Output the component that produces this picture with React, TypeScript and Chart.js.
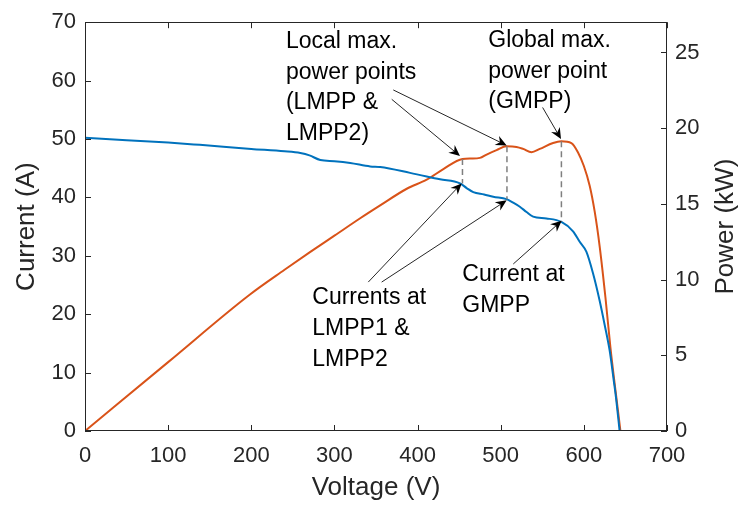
import React, { useEffect, useRef } from 'react';
import { Chart, registerables } from 'chart.js';

Chart.register(...registerables);

// ---- Axis ticks ----
const voltageTicks = [0, 100, 200, 300, 400, 500, 600, 700];
const currentTicks = [0, 10, 20, 30, 40, 50, 60, 70];
const powerTicks = [0, 5, 10, 15, 20, 25];

// ---- I-V curve (blue) ----
const currentVoltage = [0, 50, 100, 138, 200, 240, 259, 270, 283, 300, 319, 343, 355, 391, 427, 451, 459, 467, 480, 491, 507, 515, 523, 531, 539, 555, 573, 587, 595, 603, 611, 619, 625, 631, 636, 639, 643];
const currentAmps = [50.2, 49.8, 49.4, 49.0, 48.3, 47.9, 47.6, 47.2, 46.4, 46.2, 45.9, 45.3, 45.2, 44.2, 43.1, 42.4, 41.6, 40.9, 40.5, 40.1, 39.7, 39.1, 38.4, 37.5, 36.7, 36.4, 35.8, 34.2, 32.4, 30.7, 27.0, 22.3, 18.2, 13.8, 8.6, 5.3, 0];

// ---- P-V curve (orange) ----
const powerVoltage = [0, 100, 198, 240, 271, 300, 331, 355, 387, 411, 431, 454, 465, 475, 483, 495, 507, 519, 527, 537, 547, 563, 573, 585, 593, 600, 607, 613, 619, 626, 632, 638, 644];
const powerKW = [0, 4.55, 9.0, 10.65, 11.83, 12.9, 14.05, 14.9, 16.0, 16.6, 17.3, 17.97, 18.0, 18.04, 18.26, 18.55, 18.8, 18.76, 18.63, 18.41, 18.63, 19.02, 19.13, 19.02, 18.4, 17.5, 16.2, 14.5, 12.2, 8.8, 5.5, 2.7, 0];

// ---- Maximum power points (dashed guides) ----
const mppVoltage = [454, 507.5, 573];
const mppPowerKW = [17.97, 18.8, 19.13];
const mppCurrentA = [42.4, 39.7, 35.8];

// ---- Arrows (voltage, current-axis units) ----
const arrowTailV = [368.9, 370.8, 550.4, 340.7, 356.8, 515.1];
const arrowTailA = [56.8, 58.4, 55.4, 25.5, 25.5, 28.6];
const arrowTipV = [451, 507.2, 572.5, 453, 507.2, 573.3];
const arrowTipA = [47.1, 48.9, 50.0, 42.4, 39.5, 36.0];

// ---- Annotation texts (anchor = left / first baseline, in voltage & current units) ----
const noteLines = [
  ['Local max.', 'power points', '(LMPP &', 'LMPP2)'],
  ['Global max.', 'power point', '(GMPP)'],
  ['Currents at', 'LMPP1 &', 'LMPP2'],
  ['Current at', 'GMPP'],
];
const noteV = [241.7, 485.0, 273.4, 453.8];
const noteA = [65.6, 65.75, 21.7, 25.65];

const FONT = "'Liberation Sans', Arial, Helvetica, sans-serif";
const TEXT = '#262626';

function drawArrow(ctx: CanvasRenderingContext2D, x0: number, y0: number, x1: number, y1: number) {
  const ang = Math.atan2(y1 - y0, x1 - x0);
  const len = 11;
  const hw = 5;
  const notch = 7.5;
  const cos = Math.cos(ang);
  const sin = Math.sin(ang);
  ctx.save();
  ctx.strokeStyle = '#262626';
  ctx.fillStyle = '#000';
  ctx.lineWidth = 1;
  ctx.beginPath();
  ctx.moveTo(x0, y0);
  ctx.lineTo(x1 - cos * notch, y1 - sin * notch);
  ctx.stroke();
  ctx.beginPath();
  ctx.moveTo(x1, y1);
  ctx.lineTo(x1 - cos * len - sin * hw, y1 - sin * len + cos * hw);
  ctx.lineTo(x1 - cos * notch, y1 - sin * notch);
  ctx.lineTo(x1 - cos * len + sin * hw, y1 - sin * len - cos * hw);
  ctx.closePath();
  ctx.fill();
  ctx.restore();
}

const overlayPlugin = {
  id: 'overlay',
  afterDatasetsDraw(chart: any) {
    const { ctx, chartArea: a, scales } = chart;
    const xs = scales.x;
    const ys = scales.y;
    const ys1 = scales.y1;
    ctx.save();
    // box
    ctx.strokeStyle = TEXT;
    ctx.lineWidth = 1;
    ctx.strokeRect(Math.round(a.left) + 0.5, Math.round(a.top) + 0.5, Math.round(a.right - a.left) - 1, Math.round(a.bottom - a.top) - 1);
    // inward ticks
    const tl = 6;
    ctx.beginPath();
    voltageTicks.forEach((v) => {
      const px = Math.round(xs.getPixelForValue(v)) + 0.5;
      ctx.moveTo(px, a.bottom);
      ctx.lineTo(px, a.bottom - tl);
      ctx.moveTo(px, a.top);
      ctx.lineTo(px, a.top + tl);
    });
    currentTicks.forEach((v) => {
      const py = Math.round(ys.getPixelForValue(v)) + 0.5;
      ctx.moveTo(a.left, py);
      ctx.lineTo(a.left + tl, py);
    });
    powerTicks.forEach((v) => {
      const py = Math.round(ys1.getPixelForValue(v)) + 0.5;
      ctx.moveTo(a.right, py);
      ctx.lineTo(a.right - tl, py);
    });
    ctx.stroke();

    // dashed MPP guides
    ctx.strokeStyle = '#7f7f7f';
    ctx.lineWidth = 1.5;
    ctx.setLineDash([6, 4]);
    mppVoltage.forEach((v, i) => {
      const px = xs.getPixelForValue(v);
      ctx.beginPath();
      ctx.moveTo(px, ys1.getPixelForValue(mppPowerKW[i]));
      ctx.lineTo(px, ys.getPixelForValue(mppCurrentA[i]));
      ctx.stroke();
    });
    ctx.setLineDash([]);

    // arrows
    arrowTailV.forEach((v, i) => {
      drawArrow(
        ctx,
        xs.getPixelForValue(v),
        ys.getPixelForValue(arrowTailA[i]),
        xs.getPixelForValue(arrowTipV[i]),
        ys.getPixelForValue(arrowTipA[i])
      );
    });

    // annotation texts
    ctx.fillStyle = '#000';
    ctx.font = `23px ${FONT}`;
    ctx.textAlign = 'left';
    ctx.textBaseline = 'alphabetic';
    noteLines.forEach((lines, i) => {
      const x = xs.getPixelForValue(noteV[i]);
      const y = ys.getPixelForValue(noteA[i]);
      lines.forEach((t, j) => ctx.fillText(t, x, y + j * 30.7));
    });

    // right axis title (reads bottom-to-top)
    ctx.save();
    ctx.fillStyle = TEXT;
    ctx.font = `26px ${FONT}`;
    ctx.textAlign = 'center';
    ctx.textBaseline = 'middle';
    ctx.translate(726, (a.top + a.bottom) / 2);
    ctx.rotate(-Math.PI / 2);
    ctx.fillText('Power (kW)', 0, 0);
    ctx.restore();

    ctx.restore();
  },
};

export default function App() {
  const canvasRef = useRef<HTMLCanvasElement | null>(null);

  useEffect(() => {
    const canvas = canvasRef.current;
    if (!canvas) return;
    const setTicks = (vals: number[]) => (scale: any) => {
      scale.ticks = vals.map((v) => ({ value: v }));
    };
    const chart = new Chart(canvas, {
      type: 'line',
      data: {
        datasets: [
          {
            label: 'Current',
            data: currentVoltage.map((v, i) => ({ x: v, y: currentAmps[i] })),
            borderColor: '#0072BD',
            borderWidth: 2,
            pointRadius: 0,
            cubicInterpolationMode: 'monotone',
            yAxisID: 'y',
          },
          {
            label: 'Power',
            data: powerVoltage.map((v, i) => ({ x: v, y: powerKW[i] })),
            borderColor: '#D95319',
            borderWidth: 2,
            pointRadius: 0,
            cubicInterpolationMode: 'monotone',
            yAxisID: 'y1',
          },
        ],
      },
      options: {
        responsive: false,
        animation: false,
        devicePixelRatio: 1,
        layout: { padding: { top: 19, left: 0, right: 0, bottom: 0 } },
        plugins: { legend: { display: false }, tooltip: { enabled: false } },
        scales: {
          x: {
            type: 'linear',
            min: 0,
            max: 700,
            afterBuildTicks: setTicks(voltageTicks),
            afterFit: (s: any) => { s.height = 74; },
            grid: { display: false, drawTicks: false },
            border: { display: false },
            ticks: { color: TEXT, font: { family: FONT, size: 22 }, padding: 12, maxRotation: 0, autoSkip: false },
            title: { display: true, text: 'Voltage (V)', color: TEXT, font: { family: FONT, size: 26 }, padding: { top: 0, bottom: 2 } },
          },
          y: {
            type: 'linear',
            position: 'left',
            min: 0,
            max: 70,
            afterBuildTicks: setTicks(currentTicks),
            afterFit: (s: any) => { s.width = 85; },
            grid: { display: false, drawTicks: false },
            border: { display: false },
            ticks: { color: TEXT, font: { family: FONT, size: 22 }, padding: 9, autoSkip: false },
            title: { display: true, text: 'Current (A)', color: TEXT, font: { family: FONT, size: 26 }, padding: { top: 11, bottom: 0 } },
          },
          y1: {
            type: 'linear',
            position: 'right',
            min: 0,
            max: 27,
            afterBuildTicks: setTicks(powerTicks),
            afterFit: (s: any) => { s.width = 73; },
            grid: { display: false, drawTicks: false },
            border: { display: false },
            ticks: { color: TEXT, font: { family: FONT, size: 22 }, padding: 8, autoSkip: false },
            title: { display: false },
          },
        },
      },
      plugins: [overlayPlugin],
    });
    return () => chart.destroy();
  }, []);

  return (
    <div style={{ position: 'fixed', left: 0, top: 0, width: 740, height: 505, background: '#fff' }}>
      <canvas ref={canvasRef} width={740} height={505} style={{ width: 740, height: 505, display: 'block' }} />
    </div>
  );
}
